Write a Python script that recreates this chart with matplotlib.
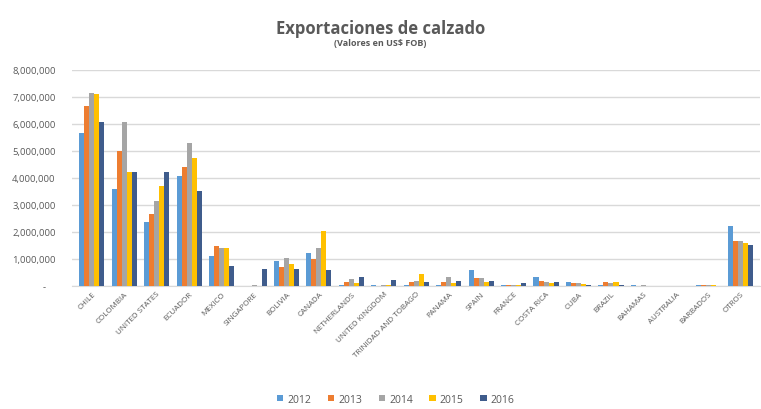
import numpy as np
import matplotlib.pyplot as plt
from matplotlib.ticker import FuncFormatter

countries = ['CHILE', 'COLOMBIA', 'UNITED STATES', 'ECUADOR', 'MEXICO', 'SINGAPORE',
             'BOLIVIA', 'CANADA', 'NETHERLANDS', 'UNITED KINGDOM', 'TRINIDAD AND TOBAGO',
             'PANAMA', 'SPAIN', 'FRANCE', 'COSTA RICA', 'CUBA', 'BRAZIL', 'BAHAMAS',
             'AUSTRALIA', 'BARBADOS', 'OTROS']
years = ['2012', '2013', '2014', '2015', '2016']

v2012 = [5670000, 3590000, 2370000, 4090000, 1100000, 10000, 940000, 1220000, 50000, 20000,
         50000, 50000, 600000, 30000, 350000, 150000, 20000, 20000, 10000, 20000, 2230000]
v2013 = [6680000, 5010000, 2660000, 4400000, 1490000, 5000, 700000, 1000000, 150000, 10000,
         150000, 150000, 300000, 20000, 200000, 120000, 150000, 10000, 5000, 50000, 1680000]
v2014 = [7150000, 6070000, 3160000, 5300000, 1420000, 50000, 1030000, 1400000, 250000, 30000,
         200000, 350000, 300000, 50000, 150000, 120000, 100000, 20000, 10000, 30000, 1650000]
v2015 = [7100000, 4220000, 3710000, 4740000, 1400000, 10000, 810000, 2050000, 100000, 30000,
         450000, 120000, 150000, 20000, 120000, 80000, 150000, 10000, 5000, 20000, 1600000]
v2016 = [6080000, 4220000, 4220000, 3530000, 740000, 620000, 630000, 590000, 350000, 220000,
         150000, 180000, 180000, 100000, 150000, 50000, 50000, 10000, 5000, 10000, 1500000]

series = [v2012, v2013, v2014, v2015, v2016]
colors = ['#5B9BD5', '#ED7D31', '#A5A5A5', '#FFC000', '#3F5C8C']

plt.rcParams['font.family'] = ['Open Sans', 'DejaVu Sans']

fig = plt.figure(figsize=(7.61, 4.10), dpi=100)
ax = fig.add_axes([0.095, 0.30, 0.904, 0.527])

x = np.arange(len(countries))
w = 0.155
for i, (vals, c, y) in enumerate(zip(series, colors, years)):
    ax.bar(x + (i - 2) * w, vals, width=w, color=c, label=y, zorder=3)

ax.set_xlim(-0.6, len(countries) - 0.4)
ax.set_ylim(0, 8000000)
ax.set_yticks(np.arange(0, 8000001, 1000000))
ax.yaxis.set_major_formatter(FuncFormatter(lambda v, p: '-    ' if v == 0 else f'{int(v):,}'))
ax.grid(axis='y', color='#D9D9D9', linewidth=1, zorder=0)
for s in ['top', 'right', 'left']:
    ax.spines[s].set_visible(False)
ax.spines['bottom'].set_color('#D9D9D9')
ax.tick_params(axis='both', length=0, colors='#595959')
ax.tick_params(axis='y', labelsize=6.8, pad=12)
ax.tick_params(axis='x', labelsize=5.8, pad=3)
ax.set_xticks(x)
ax.set_xticklabels(countries, rotation=45, ha='right', rotation_mode='anchor')

fig.text(0.5, 0.93, 'Exportaciones de calzado', ha='center', va='center',
         fontsize=12, fontweight='bold', color='#595959')
fig.text(0.5, 0.893, '(Valores en US$ FOB)', ha='center', va='center',
         fontsize=6.5, fontweight='bold', color='#595959')

fig.legend(loc='lower center', bbox_to_anchor=(0.52, -0.012), ncol=5, frameon=False,
           fontsize=7.5, handlelength=0.6, handleheight=0.6, columnspacing=1.6,
           handletextpad=0.4, labelcolor='#595959')

fig.savefig('out.png', dpi=100)
